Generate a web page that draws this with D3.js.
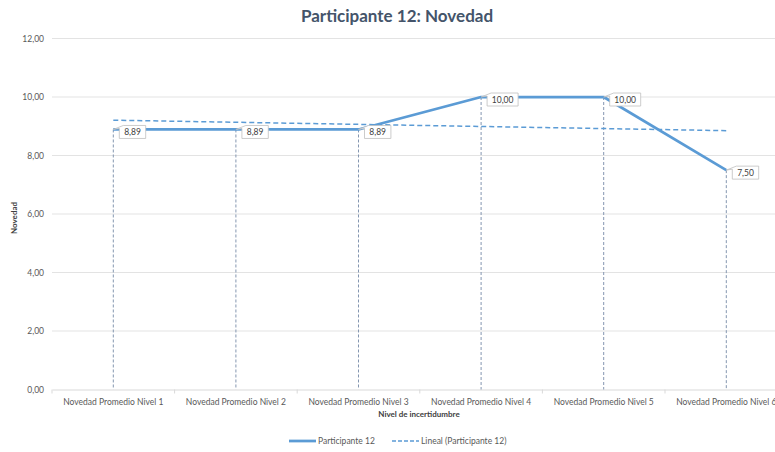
<!DOCTYPE html>
<html>
<head>
<meta charset="utf-8">
<script src="https://cdn.jsdelivr.net/npm/d3@7"></script>
<style>
  body { margin: 0; background: #fff; }
  svg { display: block; font-family: Lato, "Open Sans", sans-serif; }
</style>
</head>
<body>
<svg id="chart" width="775" height="452"></svg>
<script>
// chart data
var categories = ["Novedad Promedio Nivel 1", "Novedad Promedio Nivel 2", "Novedad Promedio Nivel 3",
                  "Novedad Promedio Nivel 4", "Novedad Promedio Nivel 5", "Novedad Promedio Nivel 6"];
var values = [8.89, 8.89, 8.89, 10.00, 10.00, 7.50];
var yTicks = [0, 2, 4, 6, 8, 10, 12];
var seriesName = "Participante 12";
var trendName = "Lineal (Participante 12)";

var svg = d3.select("#chart");
var plotLeft = 52, plotTop = 38.5, plotBottom = 389.5;
var band = 122.6;
var fmt = function(v){ return d3.format(".2f")(v).replace(".", ","); };

var x = d3.scaleBand().domain(categories).range([plotLeft, plotLeft + band * categories.length]);
var y = d3.scaleLinear().domain([0, 12]).range([plotBottom, plotTop]);
var cx = function(c){ return x(c) + x.bandwidth() / 2; };

// gridlines
svg.append("g").selectAll("line").data(yTicks.filter(function(t){ return t > 0; })).enter()
  .append("line")
  .attr("x1", plotLeft).attr("x2", 775)
  .attr("y1", function(d){ return y(d); }).attr("y2", function(d){ return y(d); })
  .attr("stroke", "#e3e3e3").attr("stroke-width", 1);

// y labels
svg.append("g").selectAll("text").data(yTicks).enter()
  .append("text")
  .attr("x", 44).attr("y", function(d){ return y(d) + 3; })
  .attr("text-anchor", "end").attr("font-size", 8.5).attr("fill", "#595959")
  .text(fmt);

// x axis
var xAxis = d3.axisBottom(x).tickSize(0).tickPadding(9);
var gx = svg.append("g").attr("transform", "translate(0," + plotBottom + ")").call(xAxis);
gx.select(".domain").attr("stroke", "#d9d9d9");
gx.selectAll("text").attr("font-size", 8.5).attr("fill", "#595959").attr("font-family", "Lato, sans-serif");
gx.selectAll(".sep").data(d3.range(categories.length + 1)).enter()
  .append("line").attr("class", "sep")
  .attr("x1", function(i){ return plotLeft + band * i; }).attr("x2", function(i){ return plotLeft + band * i; })
  .attr("y1", 0).attr("y2", 4).attr("stroke", "#d9d9d9");

// drop lines
svg.append("g").selectAll("line").data(values).enter()
  .append("line")
  .attr("x1", function(d, i){ return cx(categories[i]); })
  .attr("x2", function(d, i){ return cx(categories[i]); })
  .attr("y1", function(d){ return y(d); }).attr("y2", plotBottom)
  .attr("stroke", "#8496b0").attr("stroke-width", 1).attr("stroke-dasharray", "3,2");

// trend line (least squares)
var xs = d3.range(1, values.length + 1);
var mx = d3.mean(xs), my = d3.mean(values);
var slope = d3.sum(xs, function(v, i){ return (v - mx) * (values[i] - my); }) /
            d3.sum(xs, function(v){ return (v - mx) * (v - mx); });
var icpt = my - slope * mx;
svg.append("line")
  .attr("x1", cx(categories[0])).attr("x2", cx(categories[categories.length - 1]))
  .attr("y1", y(icpt + slope * 1)).attr("y2", y(icpt + slope * values.length))
  .attr("stroke", "#5b9bd5").attr("stroke-width", 1.5).attr("stroke-dasharray", "5,3");

// series line
var line = d3.line().x(function(d, i){ return cx(categories[i]); }).y(function(d){ return y(d); });
svg.append("path").datum(values).attr("d", line)
  .attr("fill", "none").attr("stroke", "#5b9bd5").attr("stroke-width", 2.75)
  .attr("stroke-linejoin", "round");

// data label callouts
var labels = svg.append("g").selectAll("g").data(values).enter().append("g")
  .attr("transform", function(d, i){ return "translate(" + cx(categories[i]) + "," + y(d) + ")"; });
labels.each(function(d){
  var g = d3.select(this);
  var t = fmt(d);
  var w = t.length * 4.6 + 8, h = 13;
  var bx = 6, by = -4;
  var p = "M0,0 L" + (bx + 4) + "," + by + " L" + (bx + w) + "," + by + " L" + (bx + w) + "," + (by + h) +
          " L" + bx + "," + (by + h) + " L" + bx + "," + (by + 3) + " Z";
  g.append("path").attr("d", p).attr("fill", "#fff").attr("stroke", "#bfbfbf").attr("stroke-width", 0.8);
  g.append("text").attr("x", bx + w / 2).attr("y", by + 9.8).attr("text-anchor", "middle")
    .attr("font-size", 8.5).attr("fill", "#404040").text(t);
});

// titles
svg.append("text").attr("x", 397).attr("y", 22).attr("text-anchor", "middle")
  .attr("font-size", 17).attr("font-weight", "bold").attr("fill", "#44546a")
  .text("Participante 12: Novedad");
svg.append("text").attr("x", 419).attr("y", 417).attr("text-anchor", "middle")
  .attr("font-size", 8).attr("font-weight", "bold").attr("fill", "#404040")
  .text("Nivel de incertidumbre");
svg.append("text").attr("transform", "translate(17,218) rotate(-90)").attr("text-anchor", "middle")
  .attr("font-size", 8).attr("font-weight", "bold").attr("fill", "#404040")
  .text("Novedad");

// legend
var lg = svg.append("g").attr("transform", "translate(0,441)");
lg.append("line").attr("x1", 289).attr("x2", 316).attr("y1", 0).attr("y2", 0)
  .attr("stroke", "#5b9bd5").attr("stroke-width", 2.75);
lg.append("text").attr("x", 318).attr("y", 3).attr("font-size", 8.5).attr("fill", "#595959").text(seriesName);
lg.append("line").attr("x1", 392).attr("x2", 419).attr("y1", 0).attr("y2", 0)
  .attr("stroke", "#5b9bd5").attr("stroke-width", 1.5).attr("stroke-dasharray", "4,2");
lg.append("text").attr("x", 421).attr("y", 3).attr("font-size", 8.5).attr("fill", "#595959").text(trendName);
</script>
</body>
</html>
